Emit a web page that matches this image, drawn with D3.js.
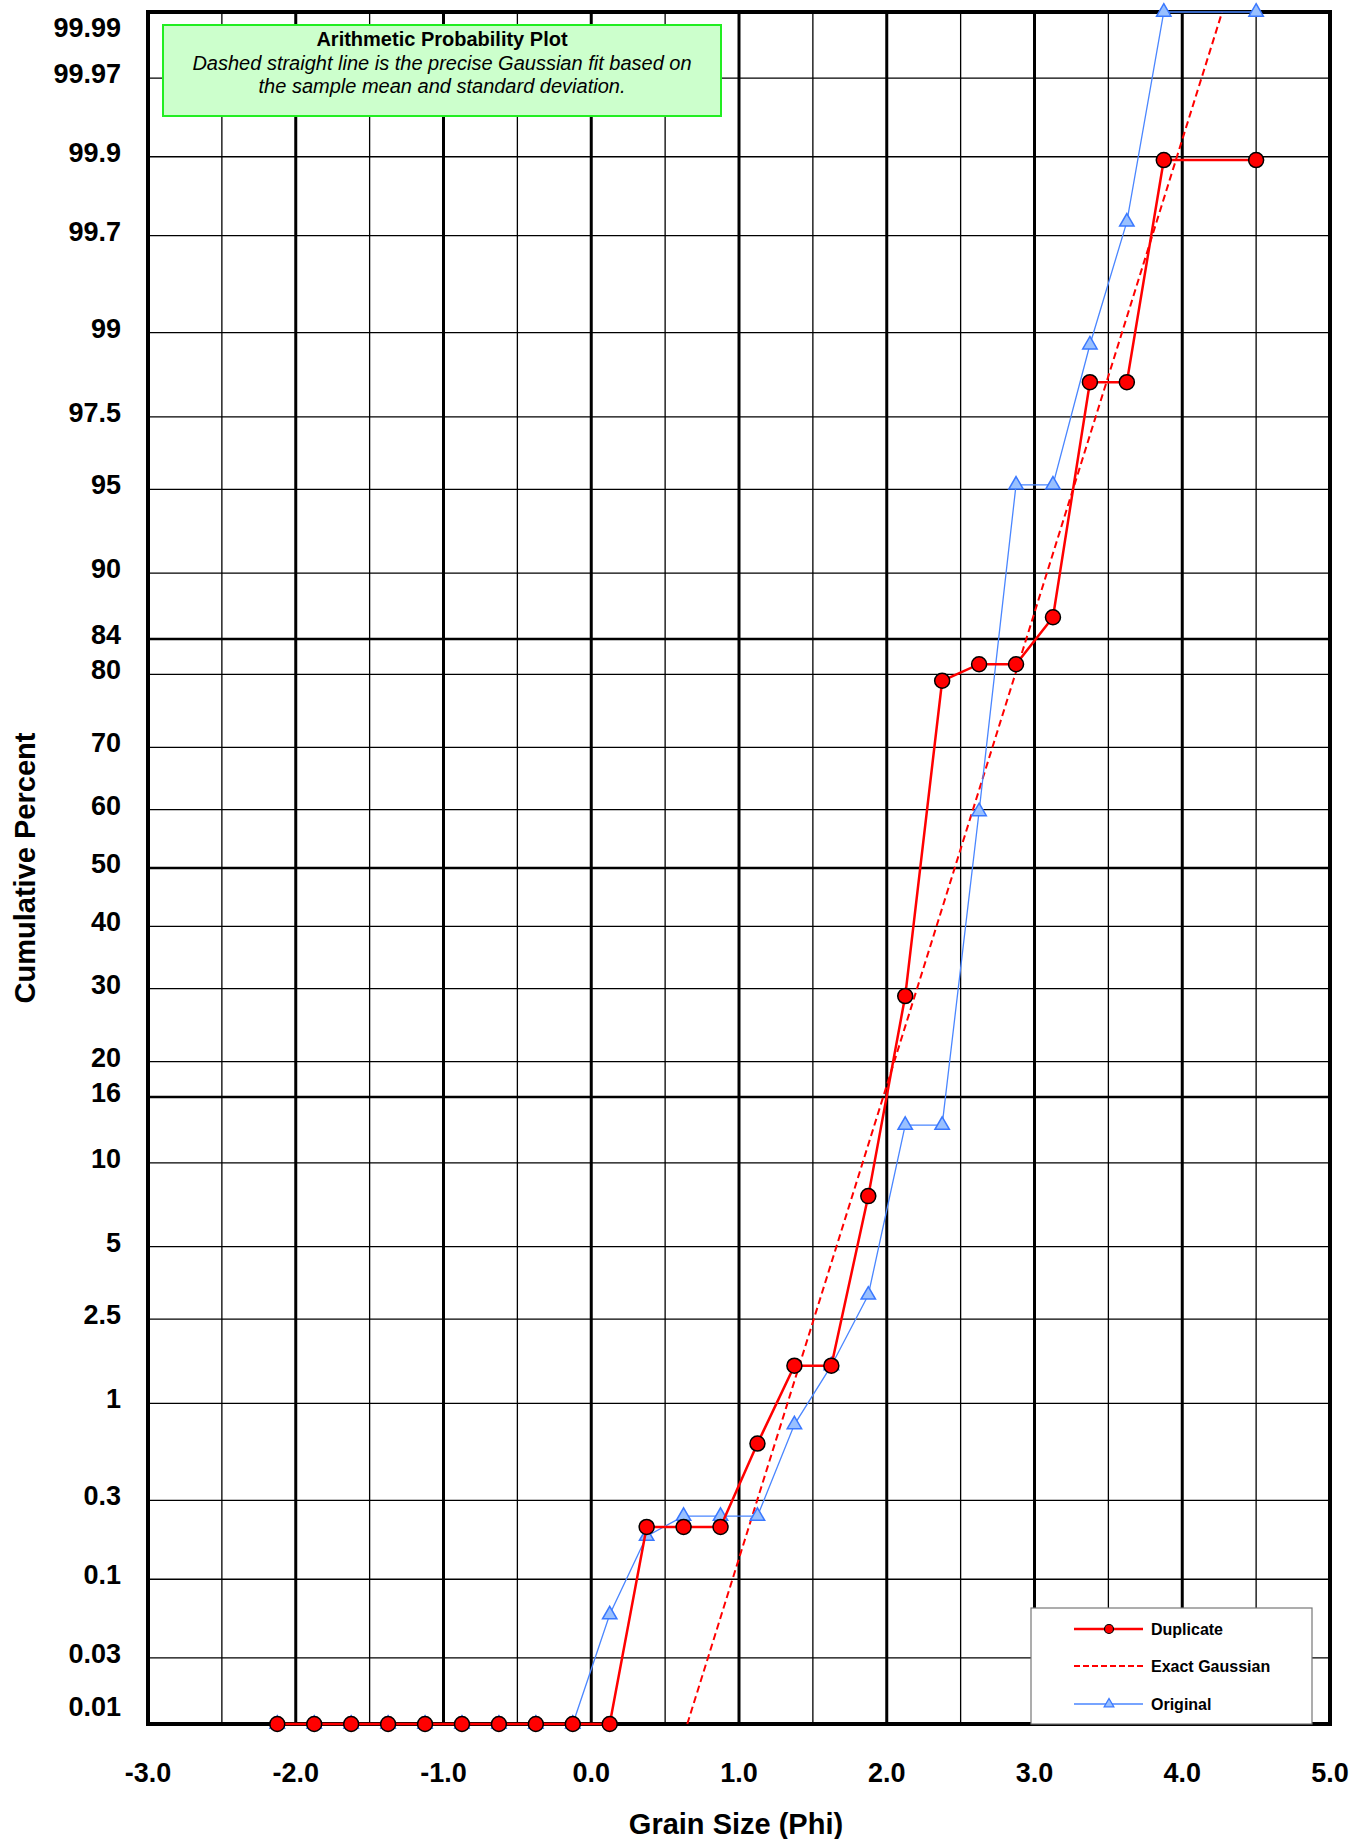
<!DOCTYPE html>
<html>
<head>
<meta charset="utf-8">
<script src="https://cdn.jsdelivr.net/npm/d3@7"></script>
<style>
  body { margin: 0; background: #fff; }
  text { font-family: "Liberation Sans", Arial, sans-serif; }
</style>
</head>
<body>
<div id="chart"></div>
<script>
// grain size classes (phi)
var phi = [-2.125, -1.875, -1.625, -1.375, -1.125, -0.875, -0.625, -0.375, -0.125, 0.125,
           0.375, 0.625, 0.875, 1.125, 1.375, 1.625, 1.875, 2.125, 2.375, 2.625,
           2.875, 3.125, 3.375, 3.625, 3.875, 4.5];

// cumulative percent, duplicate sample
var duplicate = [0.01, 0.01, 0.01, 0.01, 0.01, 0.01, 0.01, 0.01, 0.01, 0.01,
                 0.21, 0.21, 0.21, 0.62, 1.53, 1.53, 7.7, 28.9, 79.2, 81.2,
                 81.2, 86.2, 98.26, 98.26, 99.895, 99.895];

// cumulative percent, original sample
var original = [0.01, 0.01, 0.01, 0.01, 0.01, 0.01, 0.01, 0.01, 0.01, 0.059,
                0.185, 0.243, 0.243, 0.243, 0.78, 1.53, 3.18, 13.2, 13.2, 59.7,
                95.2, 95.2, 98.85, 99.75, 99.99, 99.99];

// gaussian fit (mean, sd) in phi
var gaussMean = 2.46;
var gaussSd = 0.4867;

var yTicks = [99.99, 99.97, 99.9, 99.7, 99, 97.5, 95, 90, 84, 80, 70, 60, 50, 40, 30, 20, 16, 10, 5, 2.5, 1, 0.3, 0.1, 0.03, 0.01];
var yThick = [84, 50, 16];
var xTicks = [-3, -2, -1, 0, 1, 2, 3, 4, 5];

// inverse normal cdf (Acklam)
function probit(p) {
  var a = [-3.969683028665376e+01, 2.209460984245205e+02, -2.759285104469687e+02, 1.383577518672690e+02, -3.066479806614716e+01, 2.506628277459239e+00];
  var b = [-5.447609879822406e+01, 1.615858368580409e+02, -1.556989798598866e+02, 6.680131188771972e+01, -1.328068155288572e+01];
  var c = [-7.784894002430293e-03, -3.223964580411365e-01, -2.400758277161838e+00, -2.549732539343734e+00, 4.374664141464968e+00, 2.938163982698783e+00];
  var d = [7.784695709041462e-03, 3.224671290700398e-01, 2.445134137142996e+00, 3.754408661907416e+00];
  var q, r;
  if (p < 0.02425) {
    q = Math.sqrt(-2 * Math.log(p));
    return (((((c[0]*q+c[1])*q+c[2])*q+c[3])*q+c[4])*q+c[5]) / ((((d[0]*q+d[1])*q+d[2])*q+d[3])*q+1);
  } else if (p > 1 - 0.02425) {
    q = Math.sqrt(-2 * Math.log(1 - p));
    return -(((((c[0]*q+c[1])*q+c[2])*q+c[3])*q+c[4])*q+c[5]) / ((((d[0]*q+d[1])*q+d[2])*q+d[3])*q+1);
  }
  q = p - 0.5; r = q * q;
  return (((((a[0]*r+a[1])*r+a[2])*r+a[3])*r+a[4])*r+a[5])*q / (((((b[0]*r+b[1])*r+b[2])*r+b[3])*r+b[4])*r+1);
}

var w = 1364, h = 1839;
var plotLeft = 148, plotRight = 1330, plotTop = 12, plotBottom = 1724;
var zMax = probit(0.9999);

var svg = d3.select("#chart").append("svg").attr("width", w).attr("height", h);

var xScale = d3.scaleLinear().domain([-3, 5]).range([plotLeft, plotRight]);
var zScale = d3.scaleLinear().domain([-zMax, zMax]).range([plotBottom, plotTop]);
var yPos = function(pct) { return zScale(probit(pct / 100)); };

// vertical grid
var xGrid = d3.range(-2.5, 5, 0.5);
svg.append("g").selectAll("line").data(xGrid).enter().append("line")
  .attr("x1", function(d) { return xScale(d); }).attr("x2", function(d) { return xScale(d); })
  .attr("y1", plotTop).attr("y2", plotBottom)
  .attr("stroke", "#000")
  .attr("stroke-width", function(d) { return d % 1 === 0 ? 3 : 1.3; });

// horizontal grid
svg.append("g").selectAll("line").data(yTicks).enter().append("line")
  .attr("x1", plotLeft).attr("x2", plotRight)
  .attr("y1", function(d) { return yPos(d); }).attr("y2", function(d) { return yPos(d); })
  .attr("stroke", "#000")
  .attr("stroke-width", function(d) { return yThick.indexOf(d) >= 0 ? 2.5 : 1.3; });

// frame
svg.append("rect").attr("x", plotLeft).attr("y", plotTop).attr("width", plotRight - plotLeft).attr("height", plotBottom - plotTop)
  .attr("fill", "none").attr("stroke", "#000").attr("stroke-width", 4);

// y tick labels
svg.append("g").selectAll("text").data(yTicks).enter().append("text")
  .attr("x", 121).attr("y", function(d) { return Math.max(37, Math.min(1716, yPos(d) + 5)); })
  .attr("text-anchor", "end").attr("font-size", 27).attr("font-weight", "bold")
  .text(function(d) { return d; });

// x axis labels
svg.append("g").selectAll("text").data(xTicks).enter().append("text")
  .attr("x", function(d) { return xScale(d); }).attr("y", 1782)
  .attr("text-anchor", "middle").attr("font-size", 27).attr("font-weight", "bold")
  .text(function(d) { return d.toFixed(1); });

svg.append("text").attr("x", 736).attr("y", 1834).attr("text-anchor", "middle")
  .attr("font-size", 29).attr("font-weight", "bold").text("Grain Size (Phi)");
svg.append("text").attr("transform", "translate(35," + zScale(0) + ") rotate(-90)")
  .attr("text-anchor", "middle").attr("font-size", 29).attr("font-weight", "bold")
  .text("Cumulative Percent");

// gaussian line
var gx = function(z) { return xScale(gaussMean + z * gaussSd); };
svg.append("line")
  .attr("x1", gx(-zMax)).attr("y1", zScale(-zMax))
  .attr("x2", gx(zMax)).attr("y2", zScale(zMax))
  .attr("stroke", "red").attr("stroke-width", 2).attr("stroke-dasharray", "7,4");

var line = d3.line().x(function(d) { return xScale(d[0]); }).y(function(d) { return yPos(d[1]); });
var origData = d3.zip(phi, original);
var dupData = d3.zip(phi, duplicate);

// original series
svg.append("path").datum(origData).attr("d", line)
  .attr("fill", "none").attr("stroke", "#4a86ff").attr("stroke-width", 1.3);
var tri = d3.symbol().type(d3.symbolTriangle).size(90);
svg.append("g").selectAll("path").data(origData).enter().append("path")
  .attr("d", tri)
  .attr("transform", function(d) { return "translate(" + xScale(d[0]) + "," + yPos(d[1]) + ")"; })
  .attr("fill", "#99c0ff").attr("stroke", "#3a78ff").attr("stroke-width", 1.5);

// duplicate series
svg.append("path").datum(dupData).attr("d", line)
  .attr("fill", "none").attr("stroke", "red").attr("stroke-width", 2.5);
svg.append("g").selectAll("circle").data(dupData).enter().append("circle")
  .attr("cx", function(d) { return xScale(d[0]); }).attr("cy", function(d) { return yPos(d[1]); })
  .attr("r", 7.5).attr("fill", "red").attr("stroke", "#000").attr("stroke-width", 1.5);

// title box
svg.append("rect").attr("x", 163).attr("y", 25).attr("width", 558).attr("height", 91)
  .attr("fill", "#ccffcc").attr("stroke", "#22ee22").attr("stroke-width", 2);
svg.append("text").attr("x", 442).attr("y", 46).attr("text-anchor", "middle")
  .attr("font-size", 20).attr("font-weight", "bold").text("Arithmetic Probability Plot");
svg.append("text").attr("x", 442).attr("y", 70).attr("text-anchor", "middle")
  .attr("font-size", 20).attr("font-style", "italic")
  .text("Dashed straight line is the precise Gaussian fit based on");
svg.append("text").attr("x", 442).attr("y", 93).attr("text-anchor", "middle")
  .attr("font-size", 20).attr("font-style", "italic")
  .text("the sample mean and standard deviation.");

// legend
var lg = svg.append("g").attr("transform", "translate(1031,1608)");
lg.append("rect").attr("width", 281).attr("height", 116).attr("fill", "#fff").attr("stroke", "#777").attr("stroke-width", 1.2);
var items = [
  { name: "Duplicate", y: 21 },
  { name: "Exact Gaussian", y: 58 },
  { name: "Original", y: 96 }
];
lg.selectAll("text").data(items).enter().append("text")
  .attr("x", 120).attr("y", function(d) { return d.y + 6; })
  .attr("font-size", 16).attr("font-weight", "bold").text(function(d) { return d.name; });
lg.append("line").attr("x1", 43).attr("x2", 112).attr("y1", 21).attr("y2", 21).attr("stroke", "red").attr("stroke-width", 2.5);
lg.append("circle").attr("cx", 78).attr("cy", 21).attr("r", 4.5).attr("fill", "red").attr("stroke", "#000").attr("stroke-width", 1.2);
lg.append("line").attr("x1", 43).attr("x2", 112).attr("y1", 58).attr("y2", 58).attr("stroke", "red").attr("stroke-width", 2).attr("stroke-dasharray", "6,3");
lg.append("line").attr("x1", 43).attr("x2", 112).attr("y1", 96).attr("y2", 96).attr("stroke", "#4a86ff").attr("stroke-width", 1.3);
lg.append("path").attr("d", d3.symbol().type(d3.symbolTriangle).size(40))
  .attr("transform", "translate(78,96)").attr("fill", "#99c0ff").attr("stroke", "#3a78ff").attr("stroke-width", 1.3);
</script>
</body>
</html>
